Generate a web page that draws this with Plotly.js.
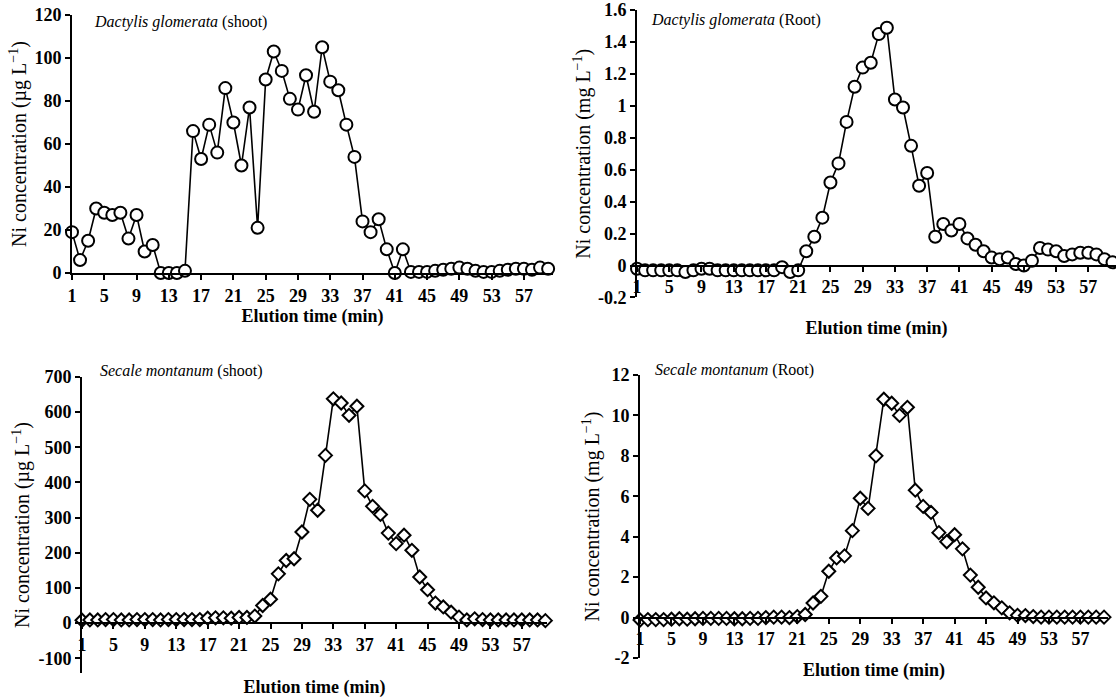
<!DOCTYPE html>
<html>
<head>
<meta charset="utf-8">
<script src="https://cdn.plot.ly/plotly-3.0.1.min.js"></script>
<style>html,body{margin:0;padding:0;background:#fff;}#chart{width:1116px;height:698px;}</style>
</head>
<body>
<div id="chart"></div>
<script>
// Elution time (min), one fraction per minute
const elutionTime = [1,2,3,4,5,6,7,8,9,10,11,12,13,14,15,16,17,18,19,20,21,22,23,24,25,26,27,28,29,30,
  31,32,33,34,35,36,37,38,39,40,41,42,43,44,45,46,47,48,49,50,51,52,53,54,55,56,57,58,59,60];

// Dactylis glomerata shoot (µg/L)
const dactylisShoot = [19,6,15,30,28,27,28,16,27,10,13,0,0,0,1,66,53,69,56,86,70,50,77,21,90,103,94,81,76,92,
  75,105,89,85,69,54,24,19,25,11,0,11,0.5,0.5,0.5,1,1.5,2,2.5,2,1,0.5,0.5,1,1.5,2,2,1.5,2.5,2];

// Dactylis glomerata root (mg/L)
const dactylisRoot = [-0.02,-0.03,-0.03,-0.03,-0.03,-0.03,-0.04,-0.03,-0.02,-0.02,-0.03,-0.03,-0.03,-0.03,-0.03,-0.03,-0.03,-0.03,-0.01,-0.04,
  -0.03,0.09,0.18,0.30,0.52,0.64,0.90,1.12,1.24,1.27,1.45,1.49,1.04,0.99,0.75,0.50,0.58,0.18,0.26,0.22,
  0.26,0.17,0.13,0.09,0.05,0.04,0.05,0.01,0.0,0.03,0.11,0.10,0.09,0.06,0.07,0.08,0.08,0.07,0.04,0.02];

// Secale montanum shoot (µg/L)
const secaleShoot = [8,9,9,10,10,9,9,10,10,10,9,10,10,10,10,10,14,15,15,14,16,16,20,50,68,140,178,183,259,352,
  321,477,638,626,591,617,376,332,309,256,226,250,207,131,95,57,46,31,17,9,12,10,9,9,9,9,9,9,9,7];

// Secale montanum root (mg/L)
const secaleRoot = [-0.12,-0.1,-0.1,-0.1,-0.08,-0.06,-0.08,-0.06,-0.04,-0.04,-0.04,-0.04,-0.06,-0.06,-0.04,-0.04,0.0,0.02,0.02,0.0,
  0.05,0.15,0.72,1.05,2.29,2.95,3.05,4.3,5.9,5.4,8.0,10.8,10.6,10.0,10.4,6.3,5.5,5.2,4.2,3.75,
  4.1,3.4,2.1,1.5,0.97,0.73,0.48,0.23,0.11,0.1,0.05,0.02,0.02,0.02,0.02,0.02,0.02,0.02,0.02,0.02];

const xTickVals = [1,5,9,13,17,21,25,29,33,37,41,45,49,53,57];
const xTickText = ['1','5','9','13','17','21','25','29','33','37','41','45','49','53','57'];

const yTickValsDS = [0,20,40,60,80,100,120];
const yTickTextDS = ['0','20','40','60','80','100','120'];
const yTickValsDR = [-0.2,0,0.2,0.4,0.6,0.8,1,1.2,1.4,1.6];
const yTickTextDR = ['-0.2','0','0.2','0.4','0.6','0.8','1','1.2','1.4','1.6'];
const yTickValsSS = [-100,0,100,200,300,400,500,600,700];
const yTickTextSS = ['-100','0','100','200','300','400','500','600','700'];
const yTickValsSR = [-2,0,2,4,6,8,10,12];
const yTickTextSR = ['-2','0','2','4','6','8','10','12'];

const panelTitles = [
  '<i>Dactylis glomerata</i> (shoot)',
  '<i>Dactylis glomerata</i> (Root)',
  '<i>Secale montanum</i> (shoot)',
  '<i>Secale montanum</i> (Root)'
];
const yTitles = [
  'Ni concentration (µg L<sup>−1</sup>)',
  'Ni concentration (mg L<sup>−1</sup>)',
  'Ni concentration (µg L<sup>−1</sup>)',
  'Ni concentration (mg L<sup>−1</sup>)'
];
const xTitle = 'Elution time (min)';

const FONT = 'Liberation Serif, Times New Roman, serif';
const lineStyle = {color: '#000', width: 1.6};
const circleMarker = {symbol: 'circle', size: 12, color: '#fff', line: {color: '#000', width: 2}};
const diamondMarker = {symbol: 'diamond', size: 10, color: '#fff', line: {color: '#000', width: 2}};

function trace(y, xa, ya, marker) {
  return {x: elutionTime, y: y, xaxis: xa, yaxis: ya, type: 'scatter', mode: 'lines+markers',
    line: lineStyle, marker: marker, cliponaxis: false, showlegend: false, hoverinfo: 'x+y'};
}

const data = [
  trace(dactylisShoot, 'x', 'y', circleMarker),
  trace(dactylisRoot, 'x2', 'y2', circleMarker),
  trace(secaleShoot, 'x3', 'y3', diamondMarker),
  trace(secaleRoot, 'x4', 'y4', diamondMarker)
];

const tickFont = {family: FONT, size: 18, color: '#000', weight: 'bold'};

function xAxis(domain, range, anchor, position, standoff) {
  const ax = {domain: domain, range: range, tickvals: xTickVals, ticktext: xTickText,
    showgrid: false, zeroline: false, showline: true, linecolor: '#000', linewidth: 2,
    ticks: 'outside', ticklen: 5, tickwidth: 2, tickcolor: '#000',
    tickfont: tickFont, ticklabeloverflow: 'allow',
    title: {text: xTitle, font: {family: FONT, size: 18, color: '#000', weight: 'bold'}, standoff: standoff}};
  if (position !== null) { ax.anchor = 'free'; ax.position = position; }
  else { ax.anchor = anchor; }
  return ax;
}
function yAxis(domain, range, vals, text, anchor, title, standoff) {
  return {domain: domain, range: range, tickvals: vals, ticktext: text, anchor: anchor,
    showgrid: false, zeroline: false, showline: true, linecolor: '#000', linewidth: 2,
    ticks: 'outside', ticklen: 5, tickwidth: 2, tickcolor: '#000',
    tickfont: tickFont, ticklabeloverflow: 'allow',
    title: {text: title, font: {family: FONT, size: 20, color: '#000'}, standoff: standoff}};
}

const annFont = {family: FONT, size: 16, color: '#000'};
const layout = {
  width: 1116, height: 698,
  margin: {l: 0, r: 0, t: 0, b: 0},
  paper_bgcolor: '#fff', plot_bgcolor: '#fff',
  font: {family: FONT, color: '#000'},
  xaxis: xAxis([0.0645, 0.4955], [1, 60.6], 'y', null, 0),
  yaxis: yAxis([0.6089, 0.9785], [0, 120], yTickValsDS, yTickTextDS, 'x', yTitles[0], 2),
  xaxis2: xAxis([0.5708, 1.0], [1, 60.43], null, 0.6195, 24),
  yaxis2: yAxis([0.5738, 0.9857], [-0.2, 1.601], yTickValsDR, yTickTextDR, 'x2', yTitles[1], 2),
  xaxis3: xAxis([0.0735, 0.4901], [1, 60.2], null, 0.1075, 27),
  yaxis3: yAxis([0.0358, 0.4599], [-142, 700], yTickValsSS, yTickTextSS, 'x3', yTitles[2], 3),
  xaxis4: xAxis([0.5735, 0.9928], [1, 60.5], null, 0.1152, 14),
  yaxis4: yAxis([0.0573, 0.4628], [-2, 12], yTickValsSR, yTickTextSR, 'x4', yTitles[3], 6),
  annotations: [
    {text: panelTitles[0], xref: 'paper', yref: 'paper', x: 92/1116, y: 1 - 22/698, xanchor: 'left', yanchor: 'middle', showarrow: false, font: annFont},
    {text: panelTitles[1], xref: 'paper', yref: 'paper', x: 649/1116, y: 1 - 20/698, xanchor: 'left', yanchor: 'middle', showarrow: false, font: annFont},
    {text: panelTitles[2], xref: 'paper', yref: 'paper', x: 98/1116, y: 1 - 371/698, xanchor: 'left', yanchor: 'middle', showarrow: false, font: annFont},
    {text: panelTitles[3], xref: 'paper', yref: 'paper', x: 653/1116, y: 1 - 370/698, xanchor: 'left', yanchor: 'middle', showarrow: false, font: annFont}
  ]
};

Plotly.newPlot('chart', data, layout, {displayModeBar: false, staticPlot: true});
</script>
</body>
</html>
